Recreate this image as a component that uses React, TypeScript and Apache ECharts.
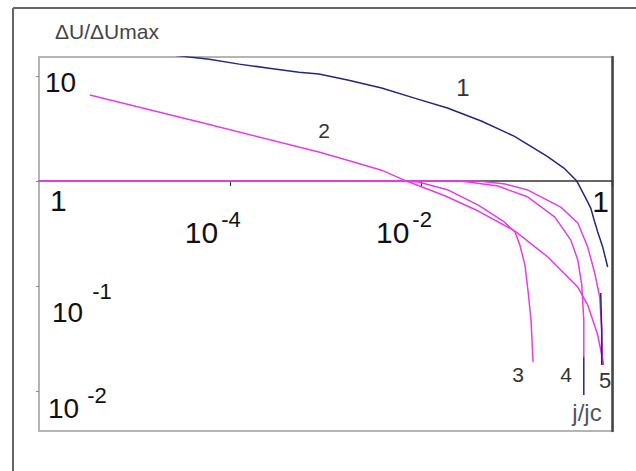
import React, { useEffect, useRef } from "react";
import * as echarts from "echarts";

// Normalised voltage drop ΔU/ΔUmax against reduced current j/jc (log–log)
const MAGENTA = "#e23ee2";
const NAVY = "#26267e";
const FONT = "'Liberation Sans', Arial, Helvetica, sans-serif";

const X_MIN = 1e-6;
const X_MAX = 1;
const Y_MIN = 0.00416;
const Y_MAX = 15.2;

// decades that carry a tick label
const xLabelDecades = [-4, -2, 0];
const yLabelDecades = [-2, -1, 0, 1];

// curve 1
const curve1 = [
  [2.61e-5, 15.8], [3.74e-5, 15.2], [6.04e-5, 14.5], [1.24e-4, 13.0], [2.55e-4, 11.9],
  [5.24e-4, 10.9], [8.46e-4, 10.45], [1.69e-3, 9.16], [3.83e-3, 7.69], [8.46e-3, 6.17],
  [0.0187, 4.96], [0.0422, 3.73], [0.0931, 2.68], [0.205, 1.73], [0.309, 1.33],
  [0.422, 1.0], [0.536, 0.659], [0.59, 0.553], [0.649, 0.407], [0.698, 0.327],
  [0.787, 0.235], [0.887, 0.152],
];

// curve 2
const curve2 = [
  [3.4e-6, 6.59], [4.75e-5, 3.65], [8.46e-4, 1.89], [1.69e-3, 1.58], [3.83e-3, 1.27],
  [6.98e-3, 1.0], [0.0178, 0.72], [0.0393, 0.518], [0.0953, 0.334], [0.21, 0.189],
  [0.432, 0.0978], [0.549, 0.0659], [0.698, 0.0341], [0.806, 0.0177],
];

// curve 3
const curve3 = [
  [1e-6, 1], [5.75e-3, 1], [9.31e-3, 0.978], [0.0191, 0.821], [0.0393, 0.59],
  [0.0715, 0.416], [0.0953, 0.327], [0.107, 0.246], [0.121, 0.158], [0.13, 0.0916],
  [0.14, 0.0475], [0.147, 0.0189],
];

// curve 4
const curve4 = [
  [1e-6, 1], [0.0243, 1], [0.0309, 0.978], [0.0634, 0.896], [0.13, 0.704],
  [0.249, 0.454], [0.365, 0.274], [0.432, 0.177], [0.475, 0.103], [0.499, 0.0475],
  [0.499, 0.0211],
];
const curve4Tail = [[0.499, 0.0211], [0.499, 0.00916]];

// curve 5
const curve5 = [
  [1e-6, 1], [0.0393, 1], [0.075, 0.936], [0.13, 0.821], [0.287, 0.565], [0.432, 0.398],
  [0.549, 0.235], [0.649, 0.133], [0.732, 0.0786], [0.768, 0.0381], [0.787, 0.0177],
];
const curve5Tail = [[0.75, 0.0858], [0.768, 0.0381], [0.768, 0.0177]];

const decadeOf = (v: number): number | null => {
  const l = Math.log10(v);
  const k = Math.round(l);
  return Math.abs(l - k) < 1e-6 ? k : null;
};

const xFormatter = (v: number) => {
  const k = decadeOf(v);
  if (k === null || !xLabelDecades.includes(k)) return "";
  if (k === 0) return "{one|1}";
  return `{b|10}{s|${k}}`;
};

const yFormatter = (v: number) => {
  const k = decadeOf(v);
  if (k === null || !yLabelDecades.includes(k)) return "";
  if (k === 1) return "{t10|10}";
  if (k === 0) return "{t1|1}";
  if (k === -1) return "{b1|10}{s1|-1}";
  return "{b2|10}{s2|-2}";
};

const line = (data: number[][], color: string, z = 3) => ({
  type: "line",
  data,
  symbol: "none",
  showSymbol: false,
  smooth: false,
  clip: true,
  z,
  lineStyle: { color, width: 1.5 },
  itemStyle: { color },
});

const curveLabel = (text: string, x: number, y: number, size: number) => ({
  type: "text",
  x,
  y,
  z: 20,
  style: {
    text,
    fontSize: size,
    fontFamily: FONT,
    fill: "#333",
    align: "center",
    verticalAlign: "middle",
  },
});

const txt = { fontFamily: FONT, color: "#111" };

export default function App() {
  const ref = useRef<HTMLDivElement>(null);

  useEffect(() => {
    if (!ref.current) return;
    const chart = echarts.init(ref.current, undefined, { renderer: "svg" });
    chart.setOption({
      animation: false,
      backgroundColor: "#ffffff",
      grid: {
        left: 39,
        right: 19,
        top: 57,
        bottom: 40,
        show: true,
        borderColor: "#b4b4b4",
        borderWidth: 2,
        backgroundColor: "transparent",
      },
      xAxis: {
        type: "log",
        logBase: 10,
        min: X_MIN,
        max: X_MAX,
        interval: 2,
        position: "bottom",
        offset: -250,
        axisLine: { show: true, onZero: false, lineStyle: { color: "#333", width: 1.5 } },
        axisTick: { show: true, length: 5, lineStyle: { color: "#333", width: 1.2 } },
        splitLine: { show: false },
        minorTick: { show: false },
        axisLabel: {
          margin: 5,
          showMinLabel: false,
          showMaxLabel: true,
          color: "#111",
          fontFamily: FONT,
          formatter: xFormatter,
          rich: {
            one: { ...txt, fontSize: 30, lineHeight: 30, padding: [0, 24, 0, 0] },
            b: { ...txt, fontSize: 30, lineHeight: 61, verticalAlign: "bottom" },
            s: { ...txt, fontSize: 22, lineHeight: 22, padding: [22, 35, 0, 3], verticalAlign: "top" },
          },
        },
      },
      yAxis: [
        {
          type: "log",
          logBase: 10,
          min: Y_MIN,
          max: Y_MAX,
          position: "left",
          name: "ΔU/ΔUmax",
          nameLocation: "end",
          nameGap: 26,
          nameTextStyle: {
            fontSize: 21,
            fontFamily: FONT,
            color: "#444",
            align: "left",
            verticalAlign: "middle",
            padding: [0, 0, 0, 16],
          },
          axisLine: { show: true, lineStyle: { color: "#b4b4b4", width: 2 } },
          axisTick: { show: true, length: 3, lineStyle: { color: "#888" } },
          splitLine: { show: false },
          axisLabel: {
            inside: true,
            margin: 6,
            showMinLabel: false,
            showMaxLabel: false,
            color: "#111",
            fontFamily: FONT,
            formatter: yFormatter,
            rich: {
              t10: { ...txt, fontSize: 28, lineHeight: 28, padding: [12, 0, 0, 0] },
              t1: { ...txt, fontSize: 30, lineHeight: 30, padding: [38, 0, 0, 5] },
              b1: { ...txt, fontSize: 28, lineHeight: 80, padding: [0, 0, 0, 7], verticalAlign: "bottom" },
              s1: { ...txt, fontSize: 22, lineHeight: 22, padding: [34, 0, 0, 9], verticalAlign: "top" },
              b2: { ...txt, fontSize: 28, lineHeight: 62, padding: [0, 0, 0, 3], verticalAlign: "bottom" },
              s2: { ...txt, fontSize: 22, lineHeight: 22, padding: [24, 0, 0, 8], verticalAlign: "top" },
            },
          },
        },
        {
          type: "log",
          logBase: 10,
          min: Y_MIN,
          max: Y_MAX,
          position: "right",
          axisLine: { show: true, lineStyle: { color: "#444", width: 2.5 } },
          axisTick: { show: false },
          axisLabel: { show: false },
          splitLine: { show: false },
        },
      ],
      series: [
        line(curve3, MAGENTA),
        line(curve4, MAGENTA),
        line(curve5, MAGENTA),
        line(curve2, MAGENTA),
        line(curve1, NAVY, 4),
        line(curve4Tail, NAVY, 4),
        line(curve5Tail, NAVY, 4),
      ],
      graphic: [
        { type: "line", z: 0, shape: { x1: 13, y1: 8, x2: 13, y2: 471 }, style: { stroke: "#666", lineWidth: 2 } },
        { type: "line", z: 0, shape: { x1: 13, y1: 8, x2: 636, y2: 8 }, style: { stroke: "#666", lineWidth: 2 } },
        curveLabel("1", 463, 87, 24),
        curveLabel("2", 324, 130, 21),
        curveLabel("3", 518, 374, 21),
        curveLabel("4", 566, 374, 21),
        curveLabel("5", 605, 380, 22),
        {
          type: "text",
          x: 587,
          y: 412,
          z: 20,
          style: {
            text: "j/jc",
            fontSize: 24,
            fontFamily: FONT,
            fill: "#555",
            align: "center",
            verticalAlign: "middle",
          },
        },
      ],
    });
    return () => chart.dispose();
  }, []);

  return (
    <div
      ref={ref}
      style={{ position: "fixed", left: 0, top: 0, width: 636, height: 471, background: "#fff" }}
    />
  );
}
